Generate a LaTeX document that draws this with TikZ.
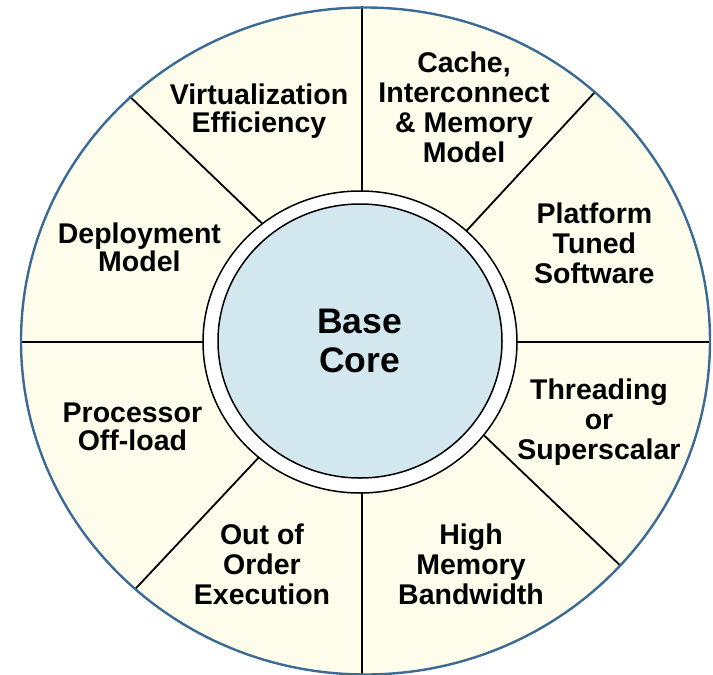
\documentclass[tikz,border=0pt]{standalone}
\usepackage{fontspec}
\setmainfont{Liberation Sans}
\usetikzlibrary{calc}

\definecolor{panelfill}{HTML}{FEFDEB}
\definecolor{corefill}{HTML}{D3E7EE}
\definecolor{rimblue}{HTML}{3B6A94}

\tikzset{
  rim/.style={draw=rimblue, line width=2.4pt},
  divider/.style={draw=black, line width=1.8pt},
  ringline/.style={draw=black, line width=1.5pt},
  lab/.style={font=\fontsize{28.5}{30}\selectfont\bfseries, align=center, inner sep=0pt, anchor=center},
  labtwo/.style={lab, font=\fontsize{28.5}{28}\selectfont\bfseries},
  corelab/.style={font=\fontsize{35.5}{39}\selectfont\bfseries, align=center, inner sep=0pt, anchor=center}
}

\begin{document}
\begin{tikzpicture}[x=1pt, y=-1pt]
  \useasboundingbox (0,0) rectangle (713,675);

  % wheel centre points
  \coordinate (wc) at (365.5,341);
  \coordinate (rc) at (360,342);

  % outer wheel background
  \fill[panelfill] (wc) ellipse [x radius=344.5pt, y radius=333.5pt];

  % spoke end points on the rim
  \coordinate (oT) at (362,6);
  \coordinate (oB) at (362,676);
  \coordinate (oL) at (21,341.6);
  \coordinate (oR) at (710,341.6);
  \coordinate (oUL) at (129.3,96);
  \coordinate (oUR) at (595,92);
  \coordinate (oLR) at (619.7,565);
  \coordinate (oLL) at (135.1,589.2);
  % spoke end points at the hub
  \coordinate (iUL) at (261.6,223);
  \coordinate (iUR) at (467.7,229.5);
  \coordinate (iLR) at (484.5,435.8);
  \coordinate (iLL) at (258.4,457.8);

  % spokes
  \draw[divider] (oT) -- (362,342);
  \draw[divider] (oB) -- (362,342);
  \draw[divider] (oL) -- (362,341.6);
  \draw[divider] (oR) -- (362,341.6);
  \draw[divider] (oUL) -- ($(oUL)!1.1!(iUL)$);
  \draw[divider] (oUR) -- ($(oUR)!1.1!(iUR)$);
  \draw[divider] (oLR) -- ($(oLR)!1.1!(iLR)$);
  \draw[divider] (oLL) -- ($(oLL)!1.1!(iLL)$);

  % rim
  \draw[rim] (wc) ellipse [x radius=344.5pt, y radius=333.5pt];

  % hub: white ring and core disc
  \filldraw[fill=white, ringline] (rc) ellipse [x radius=157pt, y radius=151pt];
  \filldraw[fill=corefill, ringline] (360,341) ellipse [x radius=142pt, y radius=137pt];

  % labels
  \node[corelab] (core) at (359.5,340.7) {Base\\Core};

  \node[labtwo] (virt) at (259,111.3) {Virtualization\\Efficiency};
  \node[lab] (cache) at (464,107.8) {Cache,\\Interconnect\\\& Memory\\Model};
  \node[labtwo] (deploy) at (139.4,247) {Deployment\\Model};
  \node[lab] (platform) at (594.4,242.9) {Platform\\Tuned\\Software};
  \node[labtwo] (offload) at (132.4,426.9) {Processor\\Off-load};
  \node[lab] (thread) at (599,421.8) {Threading\\or\\Superscalar};
  \node[lab] (ooo) at (262,564) {Out of\\Order\\Execution};
  \node[lab] (membw) at (471,564) {High\\Memory\\Bandwidth};
\end{tikzpicture}
\end{document}
